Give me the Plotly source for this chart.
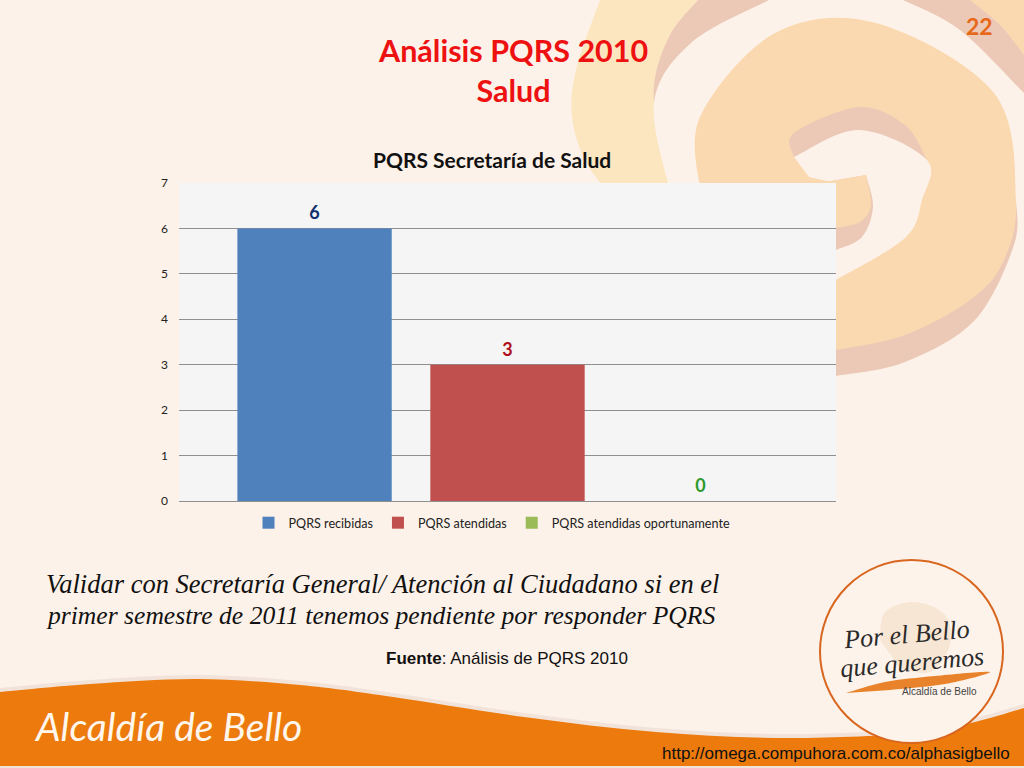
"""PQRS Salud slide rebuilt with Plotly: one bar chart on a decorated slide background."""

import re

import plotly.graph_objects as go

CATEGORY = ["Salud"]
SERIES_NAMES = ["PQRS recibidas", "PQRS atendidas", "PQRS atendidas oportunamente"]
SERIES_VALUES = [6, 3, 0]
BAR_COLORS = ["#4F81BD", "#C0504D", "#9BBB59"]
LABEL_COLORS = ["#10306E", "#B0101E", "#2E9A2E"]
Y_TICKS = [0, 1, 2, 3, 4, 5, 6, 7]

WIDTH = 1024
HEIGHT = 768
BG = "#FDF2E9"
YELLOW = "#FCE6C0"
PEACH = "#FAD9B0"
PINK = "#EBC9B6"
ORANGE = "#EC7A0C"


def curve(points):
    # Catmull-Rom through the points, written as cubic segments
    path = f"{points[0][0]},{points[0][1]}"
    for i in range(len(points) - 1):
        p0 = points[max(i - 1, 0)]
        p1 = points[i]
        p2 = points[i + 1]
        p3 = points[min(i + 2, len(points) - 1)]
        c1 = (p1[0] + (p2[0] - p0[0]) / 6, p1[1] + (p2[1] - p0[1]) / 6)
        c2 = (p2[0] - (p3[0] - p1[0]) / 6, p2[1] - (p3[1] - p1[1]) / 6)
        path += f" C{c1[0]},{c1[1]} {c2[0]},{c2[1]} {p2[0]},{p2[1]}"
    return path


def to_paper(path):
    # pixel pairs -> paper fractions (margins are zero so paper is the whole page)
    def repl(m):
        return f"{float(m.group(1)) / WIDTH:.5f},{1 - float(m.group(2)) / HEIGHT:.5f}"

    return re.sub(r"(-?[\d.]+),(-?[\d.]+)", repl, path)


def blob(points, corners=(), color=PEACH, opacity=1.0):
    path = "M" + curve(points)
    for x, y in corners:
        path += f" L{x},{y}"
    path += " Z"
    return dict(
        type="path", xref="paper", yref="paper", path=to_paper(path), fillcolor=color,
        opacity=opacity, line={"width": 0}, layer="below",
    )


BAND_EDGE = [(0, 692), (90, 684), (197, 679), (300, 685), (393, 697), (524, 717),
             (656, 732), (787, 738), (918, 733), (975, 722), (1024, 708)]

shapes = [
    # swirl behind the chart
    blob([(600, 0), (576, 70), (572, 117), (585, 160), (610, 195)], [(720, 195), (720, 0)], YELLOW),
    blob([(698, 0), (670, 35), (654, 85), (660, 140), (672, 195)], [(1024, 195), (1024, 0)], PINK),
    blob([(970, 0), (1000, 25), (1024, 55)], [(1024, 0)], PEACH),
    blob([(671, 195), (654, 103), (691, 43), (769, 0)], [(903, 0), (903, 420), (671, 420)], BG),
    blob([(903, 0), (960, 30), (1024, 93)], [(1024, 420), (780, 420), (780, 0)], BG),
    blob([(1016, 200), (1014, 245), (975, 320), (905, 362), (836, 376)], [(700, 376), (700, 130)], PINK),
    blob([(701, 195), (700, 117), (775, 33), (876, 23), (994, 93), (1016, 200), (1003, 262),
          (970, 300), (905, 335), (836, 350)], [], PEACH),
    blob([(794, 157), (794, 133), (859, 107), (905, 125), (927, 160)], [(859, 135)], PINK),
    blob([(794, 157), (859, 130), (927, 160), (922, 200), (905, 238), (836, 280)],
         [(760, 280), (760, 183), (836, 183), (809, 177)], BG),
    blob([(866, 175), (873, 207), (862, 237), (836, 250)], [(820, 250), (820, 183)], PINK),
    blob([(866, 175), (871, 205), (860, 222), (836, 228)], [(820, 228), (820, 183)], PEACH),
    # chart panel goes over the swirl
    dict(type="rect", xref="x domain", yref="y domain", x0=0, x1=1, y0=0, y1=1,
         fillcolor="#F5F5F5", line={"width": 0}, layer="below"),
    # orange band at the foot of the slide
    blob([(x, y - 4) for x, y in BAND_EDGE], [(1024, 768), (0, 768)], "#D9C9BC", 0.35),
    blob(BAND_EDGE, [(1024, 766), (0, 766)], ORANGE),
    # logo
    dict(type="circle", xref="paper", yref="paper", x0=820 / WIDTH, x1=1003 / WIDTH,
         y0=1 - 743 / HEIGHT, y1=1 - 560 / HEIGHT, fillcolor="#FDF3EA",
         line={"color": "#D9661F", "width": 2}, layer="below"),
    blob([(880, 640), (885, 612), (915, 602), (945, 615), (950, 645), (930, 672), (900, 668)], [], "#F8E6D4"),
    blob([(846, 693), (885, 682), (935, 676), (990, 672), (945, 684), (890, 690)], [], "#E9832B"),
]

fig = go.Figure()
for name, value, color, label_color in zip(SERIES_NAMES, SERIES_VALUES, BAR_COLORS, LABEL_COLORS):
    fig.add_trace(
        go.Bar(
            x=CATEGORY,
            y=[value],
            name=name,
            marker={"color": color, "line": {"width": 0}},
            # tiny base font with an empty second line lifts the label a few px off the bar
            text=[f"<span style='font-size:18px'>{value}</span><br> "],
            textposition="outside",
            textfont={"family": "Lato", "size": 4, "color": label_color, "weight": "bold"},
            cliponaxis=False,
        )
    )

annotations = [
    dict(x=512.5 / WIDTH, y=1 - 70 / HEIGHT, text="<b>Análisis PQRS 2010<br>Salud</b>",
         font={"family": "Lato", "size": 30.5, "color": "#EE1111"}),
    dict(x=492 / WIDTH, y=1 - 159 / HEIGHT, text="<b>PQRS Secretaría de Salud</b>",
         font={"family": "Lato", "size": 21, "color": "#111111"}),
    dict(x=979 / WIDTH, y=1 - 26 / HEIGHT, text="<b>22</b>",
         font={"family": "Lato", "size": 23, "color": "#E8681A"}),
    dict(x=44 / WIDTH, y=1 - 584 / HEIGHT, text="Validar con Secretaría General/ Atención al Ciudadano si en el",
         xanchor="left", font={"family": "Liberation Serif", "size": 26.5, "color": "#111111", "style": "italic"}),
    dict(x=44 / WIDTH, y=1 - 615 / HEIGHT, text="primer semestre de 2011 tenemos pendiente por responder PQRS",
         xanchor="left", font={"family": "Liberation Serif", "size": 25.6, "color": "#111111", "style": "italic"}),
    dict(x=384 / WIDTH, y=1 - 658 / HEIGHT, text="<b>Fuente</b>: Análisis de PQRS 2010", xanchor="left",
         font={"family": "Liberation Sans", "size": 17, "color": "#111111"}),
    dict(x=32 / WIDTH, y=1 - 726 / HEIGHT, text="Alcaldía de Bello", xanchor="left",
         font={"family": "Lato", "size": 39, "color": "#FFF6EC", "style": "italic"}),
    dict(x=1012 / WIDTH, y=1 - 753 / HEIGHT, text="http://omega.compuhora.com.co/alphasigbello", xanchor="right",
         font={"family": "Liberation Sans", "size": 17, "color": "#111111"}),
    dict(x=906 / WIDTH, y=1 - 634 / HEIGHT, text="Por el Bello", textangle=-5,
         font={"family": "Liberation Serif", "size": 26, "color": "#2A2A2A", "style": "italic"}),
    dict(x=912 / WIDTH, y=1 - 662 / HEIGHT, text="que queremos", textangle=-5,
         font={"family": "Liberation Serif", "size": 26, "color": "#2A2A2A", "style": "italic"}),
    dict(x=939 / WIDTH, y=1 - 691 / HEIGHT, text="Alcaldía de Bello",
         font={"family": "Liberation Sans", "size": 10, "color": "#444444"}),
]
for a in annotations:
    a.update(xref="paper", yref="paper", showarrow=False, yanchor="middle")
    a.setdefault("xanchor", "center")

fig.update_layout(
    width=WIDTH,
    height=HEIGHT,
    margin={"l": 0, "r": 0, "t": 0, "b": 0, "autoexpand": False},
    paper_bgcolor=BG,
    plot_bgcolor="rgba(0,0,0,0)",
    barmode="group",
    bargap=0.119,
    bargroupgap=0.2,
    showlegend=True,
    legend={
        "orientation": "h",
        "x": 492 / WIDTH,
        "xanchor": "center",
        "y": 1 - 523 / HEIGHT,
        "yanchor": "middle",
        "font": {"family": "Lato", "size": 12.6, "color": "#222222"},
        "bgcolor": "rgba(0,0,0,0)",
    },
    xaxis={
        "domain": [179 / WIDTH, 836 / WIDTH],
        "showticklabels": False,
        "showgrid": False,
        "ticks": "",
        "fixedrange": True,
    },
    yaxis={
        "domain": [1 - 501 / HEIGHT, 1 - 183 / HEIGHT],
        "range": [0, 7],
        "tickvals": Y_TICKS,
        "showgrid": True,
        "gridcolor": "#8F8F8F",
        "gridwidth": 1.4,
        "zeroline": True,
        "zerolinecolor": "#8F8F8F",
        "zerolinewidth": 1.4,
        "ticklabelstandoff": 10,
        "tickfont": {"family": "Lato", "size": 12, "color": "#222222"},
        "fixedrange": True,
    },
    shapes=shapes,
    annotations=annotations,
)
fig.write_html("out.html", config={"displayModeBar": False}, post_script="document.body.style.margin='0';")
